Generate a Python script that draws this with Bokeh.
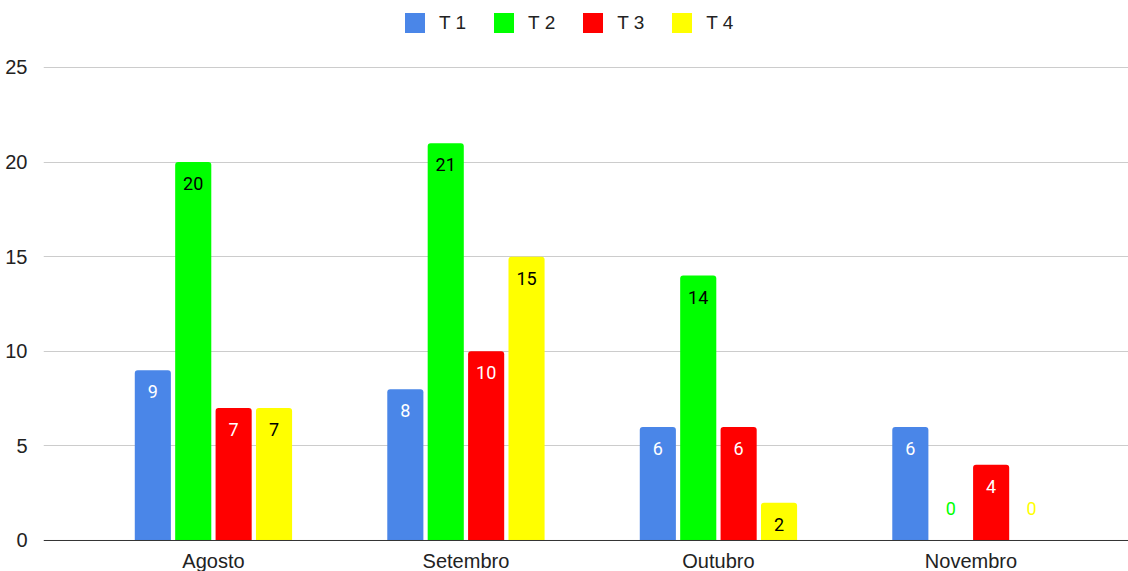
from bokeh.plotting import figure
from bokeh.models import (ColumnDataSource, Range1d, FixedTicker, Legend, LegendItem, Span)
from bokeh.core.properties import value
from bokeh.embed import file_html
from bokeh.resources import INLINE

months = ["Agosto", "Setembro", "Outubro", "Novembro"]
series = ["T 1", "T 2", "T 3", "T 4"]
t1 = [9, 8, 6, 6]
t2 = [20, 21, 14, 0]
t3 = [7, 10, 6, 4]
t4 = [7, 15, 2, 0]
y_ticks = [0, 5, 10, 15, 20, 25]

colors = ["#4a86e8", "#00ff00", "#ff0000", "#ffff00"]
label_colors = ["#ffffff", "#000000", "#ffffff", "#000000"]
AXIS_FONT = "Liberation Sans"
LABEL_FONT = "Roboto"
TEXT = "#222222"

# the frame fills the full height; the value axis runs from 0 to 25 with
# headroom above for the legend and room below for the month names
p = figure(width=1128, height=571, output_backend="svg", toolbar_location=None,
           x_range=Range1d(-0.673, 3.624), y_range=Range1d(-1.6385, 28.541))
p.min_border_left = 43
p.min_border_right = 0
p.min_border_top = 0
p.min_border_bottom = 0
p.outline_line_color = None
p.background_fill_color = "#ffffff"
p.border_fill_color = "#ffffff"

p.xaxis.visible = False
p.yaxis.ticker = FixedTicker(ticks=y_ticks)
p.yaxis.axis_line_color = None
p.yaxis.major_tick_line_color = None
p.yaxis.minor_tick_line_color = None
p.yaxis.major_label_text_font = AXIS_FONT
p.yaxis.major_label_text_font_size = "20px"
p.yaxis.major_label_text_color = TEXT
p.yaxis.major_label_standoff = 10

p.xgrid.grid_line_color = None
p.ygrid.ticker = FixedTicker(ticks=y_ticks[1:])
p.ygrid.grid_line_color = "#cccccc"
p.ygrid.grid_line_width = 1

# baseline
p.add_layout(Span(location=0, dimension="width", line_color="#333333", line_width=1))

# month names under the baseline
msrc = ColumnDataSource(dict(x=list(range(len(months))), y=[0] * len(months), m=months))
p.text(x="x", y="y", text="m", source=msrc, text_align="center",
       text_baseline="alphabetic", y_offset=21, text_color=TEXT,
       text_font=value(AXIS_FONT), text_font_size="20px")

step = 0.16
width = 0.143
offsets = [-1.5 * step, -0.5 * step, 0.5 * step, 1.5 * step]
data = [t1, t2, t3, t4]

items = []
for name, vals, col, lcol, off in zip(series, data, colors, label_colors, offsets):
    xs = [i + off for i in range(len(months))]
    src = ColumnDataSource(dict(x=xs, top=vals))
    r = p.vbar(x="x", top="top", bottom=0, width=width, source=src, fill_color=col,
               line_color=None, border_radius=(3, 3, 0, 0))
    items.append(LegendItem(label=name, renderers=[r]))

    nz = [k for k, v in enumerate(vals) if v > 0]
    zz = [k for k, v in enumerate(vals) if v == 0]
    inside = ColumnDataSource(dict(x=[xs[k] for k in nz], y=[vals[k] for k in nz],
                                   lab=[str(vals[k]) for k in nz]))
    p.text(x="x", y="y", text="lab", source=inside, text_align="center",
           text_baseline="middle", y_offset=21.5, text_color=lcol,
           text_font=value(LABEL_FONT), text_font_size="18px")
    if zz:
        zero = ColumnDataSource(dict(x=[xs[k] for k in zz], y=[vals[k] for k in zz],
                                     lab=[str(vals[k]) for k in zz]))
        p.text(x="x", y="y", text="lab", source=zero, text_align="center",
               text_baseline="middle", y_offset=-32, text_color=col,
               text_font=value(LABEL_FONT), text_font_size="18px")

legend = Legend(items=items, orientation="horizontal", location=(359, 536),
                glyph_width=25, glyph_height=25, label_height=25, label_standoff=12,
                spacing=25, label_text_font=AXIS_FONT, label_text_font_size="19px",
                label_text_color=TEXT, label_text_baseline="middle",
                border_line_color=None, background_fill_alpha=0, padding=0, margin=0)
p.add_layout(legend, "center")

open("out.html", "w").write(file_html(p, INLINE))
